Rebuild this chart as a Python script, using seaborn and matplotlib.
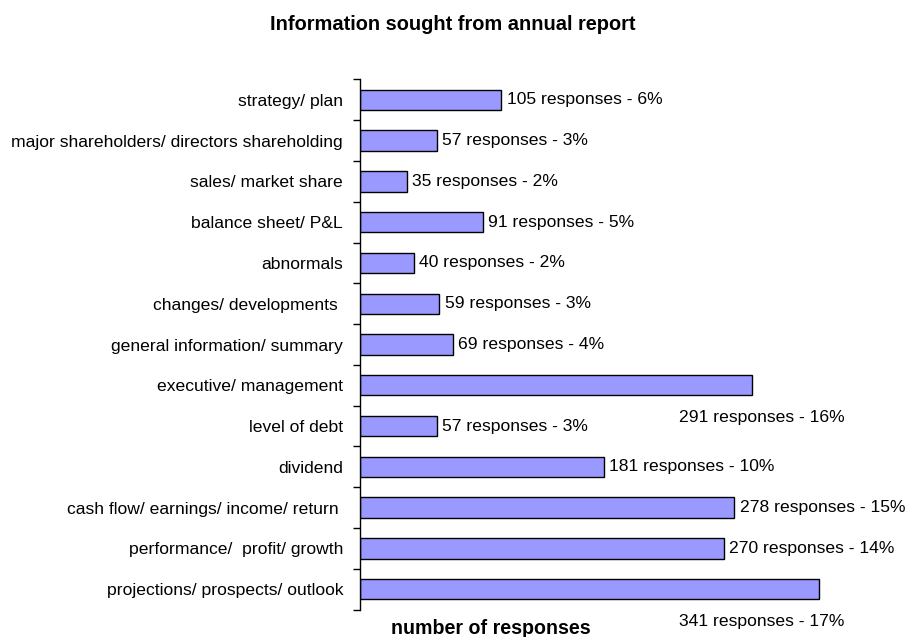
import numpy as np
import pandas as pd
import matplotlib.pyplot as plt
import seaborn as sns

categories = ["strategy/ plan", "major shareholders/ directors shareholding", "sales/ market share",
              "balance sheet/ P&L", "abnormals", "changes/ developments ", "general information/ summary",
              "executive/ management", "level of debt", "dividend", "cash flow/ earnings/ income/ return ",
              "performance/  profit/ growth", "projections/ prospects/ outlook"]
responses = [105, 57, 35, 91, 40, 59, 69, 291, 57, 181, 278, 270, 341]
percents = ["6%", "3%", "2%", "5%", "2%", "3%", "4%", "16%", "3%", "10%", "15%", "14%", "17%"]

df = pd.DataFrame({"category": categories, "responses": responses, "pct": percents})

sns.set_style("white")
plt.rcParams['font.family'] = ['Liberation Sans', 'DejaVu Sans']
plt.rcParams['text.color'] = 'black'
plt.rcParams['ytick.color'] = 'black'

px_per_unit = 1.347
fig = plt.figure(figsize=(9.05, 6.37), dpi=100)
ax = fig.add_axes([360 / 905, 1 - 609.6 / 637, (896 - 360) / 905, (609.6 - 79.4) / 637])

sns.barplot(data=df, x="responses", y="category", orient="h", color="#9999FF",
            saturation=1, edgecolor="black", linewidth=1, width=0.5, ax=ax)

ax.set_xlim(0, (896 - 360) / px_per_unit)
ax.set_ylim(len(categories) - 0.5, -0.5)

# labels beside bars; the two long ones sit underneath, as in the original
for i, (v, p) in enumerate(zip(responses, percents)):
    txt = f"{v} responses - {p}"
    if v in (291, 341):
        ax.text(236.8, i + 0.8, txt, va="center", ha="left", fontsize=12.6, clip_on=False)
    else:
        ax.text(v + 3.8, i, txt, va="center", ha="left", fontsize=12.6, clip_on=False)

ax.set_xlabel("")
ax.set_ylabel("")
ax.set_xticks([])
ax.tick_params(axis="y", which="major", left=False, length=0, pad=12.2, labelsize=12.6, labelcolor="black")
ax.set_yticks(np.arange(-0.5, len(categories)), minor=True)
ax.tick_params(axis="y", which="minor", left=True, length=5, width=1, direction="out", color="black")
for s in ["top", "right", "bottom"]:
    ax.spines[s].set_visible(False)
ax.spines["left"].set_color("black")
ax.spines["left"].set_linewidth(1)

fig.text(0.5, 1 - 25 / 637, "Information sought from annual report", ha="center", va="center",
         fontsize=14.4, fontweight="bold")
fig.text(491 / 905, 1 - 628 / 637, "number of responses", ha="center", va="center",
         fontsize=14.1, fontweight="bold")

fig.savefig("out.png", dpi=100)
